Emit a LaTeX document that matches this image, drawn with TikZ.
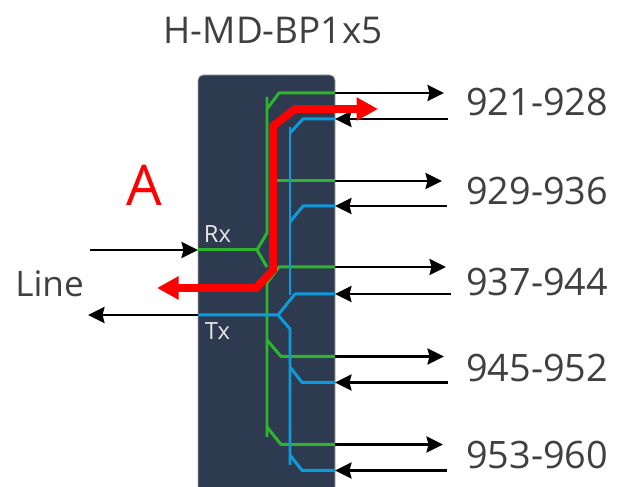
\documentclass[tikz,border=0pt]{standalone}
\usepackage{fontspec}
\setmainfont{Open Sans}
\usetikzlibrary{arrows.meta}
\definecolor{boxfill}{HTML}{2E3A4F}
\definecolor{boxedge}{HTML}{A6A6A6}
\definecolor{rxgreen}{HTML}{2DB52D}
\definecolor{txblue}{HTML}{0C9BDC}
\definecolor{lbltext}{HTML}{404040}
\definecolor{hired}{HTML}{FF0000}
\tikzset{
  cardbox/.style={draw=boxedge, fill=boxfill, line width=0.5pt},
  rxline/.style={draw=rxgreen, line width=1.7pt, line join=round},
  txline/.style={draw=txblue, line width=1.7pt, line join=round},
  sigout/.style={-{Stealth[length=3.3mm, width=3.2mm, inset=0.4mm]}, draw=black, line width=1.4pt},
  sigpath/.style={{Triangle[length=4.3mm, width=4.4mm]}-{Triangle[length=4.3mm, width=4.4mm]}, draw=hired, line width=4.5pt, line join=miter},
  ttl/.style={font=\fontsize{21}{24}\selectfont, text=lbltext, inner sep=0pt},
  chan/.style={font=\fontsize{21.5}{24}\selectfont, text=lbltext, anchor=west, inner sep=0pt},
  sidename/.style={font=\fontsize{20}{24}\selectfont, text=lbltext, anchor=west, inner sep=0pt},
  portname/.style={font=\fontsize{13.5}{15}\selectfont, text=white!90!black, inner sep=0pt},
  sidemark/.style={font=\fontsize{32}{36}\selectfont, text=hired, inner sep=0pt},
}
\begin{document}
\begin{tikzpicture}[x=1cm,y=1cm]
  \useasboundingbox (0,0) rectangle (12.4,-9.74);
  \draw[cardbox, rounded corners=0.1cm] (3.96,-9.74) -- (3.96,-1.50) -- (6.70,-1.50) -- (6.70,-9.74);
  % ports on the right edge
  \coordinate (outa) at (6.70,-1.86);
  \coordinate (outb) at (6.70,-3.62);
  \coordinate (outc) at (6.70,-5.34);
  \coordinate (outd) at (6.70,-7.13);
  \coordinate (oute) at (6.70,-8.89);
  \coordinate (ina) at (6.70,-2.38);
  \coordinate (inb) at (6.70,-4.12);
  \coordinate (inc) at (6.70,-5.88);
  \coordinate (ind) at (6.70,-7.65);
  \coordinate (ine) at (6.70,-9.41);
  % ports on the left edge
  \coordinate (rxport) at (3.96,-5.00);
  \coordinate (txport) at (3.96,-6.30);
  % free ends of the arrows
  \coordinate (outatip) at (8.88,-1.86);
  \coordinate (outbtip) at (8.84,-3.62);
  \coordinate (outctip) at (8.92,-5.34);
  \coordinate (outdtip) at (8.88,-7.13);
  \coordinate (outetip) at (8.86,-8.89);
  \coordinate (inastart) at (8.96,-2.38);
  \coordinate (inbstart) at (8.94,-4.12);
  \coordinate (incstart) at (9.02,-5.88);
  \coordinate (indstart) at (8.96,-7.65);
  \coordinate (inestart) at (8.94,-9.41);
  \coordinate (rxstart) at (1.80,-5.00);
  \coordinate (txtip) at (1.76,-6.30);
  % green splitters
  \draw[rxline] (5.34,-1.94) -- (5.34,-4.66) -- (5.14,-5.00) -- (5.34,-5.34);
  \draw[rxline] (rxport) -- (5.14,-5.00);
  \draw[rxline] (outa) -- (5.58,-1.86) -- (5.34,-2.18);
  \draw[rxline] (outb) -- (5.46,-3.62);
  \draw[rxline] (outc) -- (5.58,-5.34) -- (5.34,-5.66) -- (5.34,-8.74);
  \draw[rxline] (outd) -- (5.62,-7.13) -- (5.34,-6.80);
  \draw[rxline] (oute) -- (5.62,-8.89) -- (5.34,-8.54);
  % blue splitters
  \draw[txline] (5.80,-2.54) -- (5.80,-5.90);
  \draw[txline] (ina) -- (6.06,-2.38) -- (5.80,-2.66);
  \draw[txline] (inb) -- (6.06,-4.12) -- (5.80,-4.44);
  \draw[txline] (inc) -- (5.90,-5.88) -- (5.56,-6.30);
  \draw[txline] (txport) -- (5.56,-6.30) -- (5.80,-6.58) -- (5.80,-9.30);
  \draw[txline] (ind) -- (6.04,-7.65) -- (5.80,-7.34);
  \draw[txline] (ine) -- (6.04,-9.41) -- (5.80,-9.10);
  % black arrows
  \draw[sigout] (outa) -- (outatip);
  \draw[sigout] (outb) -- (outbtip);
  \draw[sigout] (outc) -- (outctip);
  \draw[sigout] (outd) -- (outdtip);
  \draw[sigout] (oute) -- (outetip);
  \draw[sigout] (inastart) -- (ina);
  \draw[sigout] (inbstart) -- (inb);
  \draw[sigout] (incstart) -- (inc);
  \draw[sigout] (indstart) -- (ind);
  \draw[sigout] (inestart) -- (ine);
  \draw[sigout] (rxstart) -- (rxport);
  \draw[sigout] (txport) -- (txtip);
  % red path
  \coordinate (pathstart) at (7.56,-2.18);
  \coordinate (pathend) at (3.14,-5.76);
  \draw[sigpath] (pathstart) -- (5.90,-2.18) -- (5.46,-2.52) -- (5.46,-5.40) -- (5.12,-5.76) -- (pathend);
  % labels
  \node[ttl] (title) at (5.46,-0.62) {H-MD-BP1x5};
  \node[chan] (ch1) at (9.32,-2.04) {921-928};
  \node[chan] (ch2) at (9.32,-3.82) {929-936};
  \node[chan] (ch3) at (9.32,-5.64) {937-944};
  \node[chan] (ch4) at (9.32,-7.36) {945-952};
  \node[chan] (ch5) at (9.32,-9.10) {953-960};
  \node[sidename] (line) at (0.30,-5.68) {Line};
  \node[sidemark] (side) at (2.88,-3.70) {A};
  \node[portname] (rx) at (4.35,-4.68) {Rx};
  \node[portname] (tx) at (4.35,-6.62) {Tx};
\end{tikzpicture}
\end{document}
